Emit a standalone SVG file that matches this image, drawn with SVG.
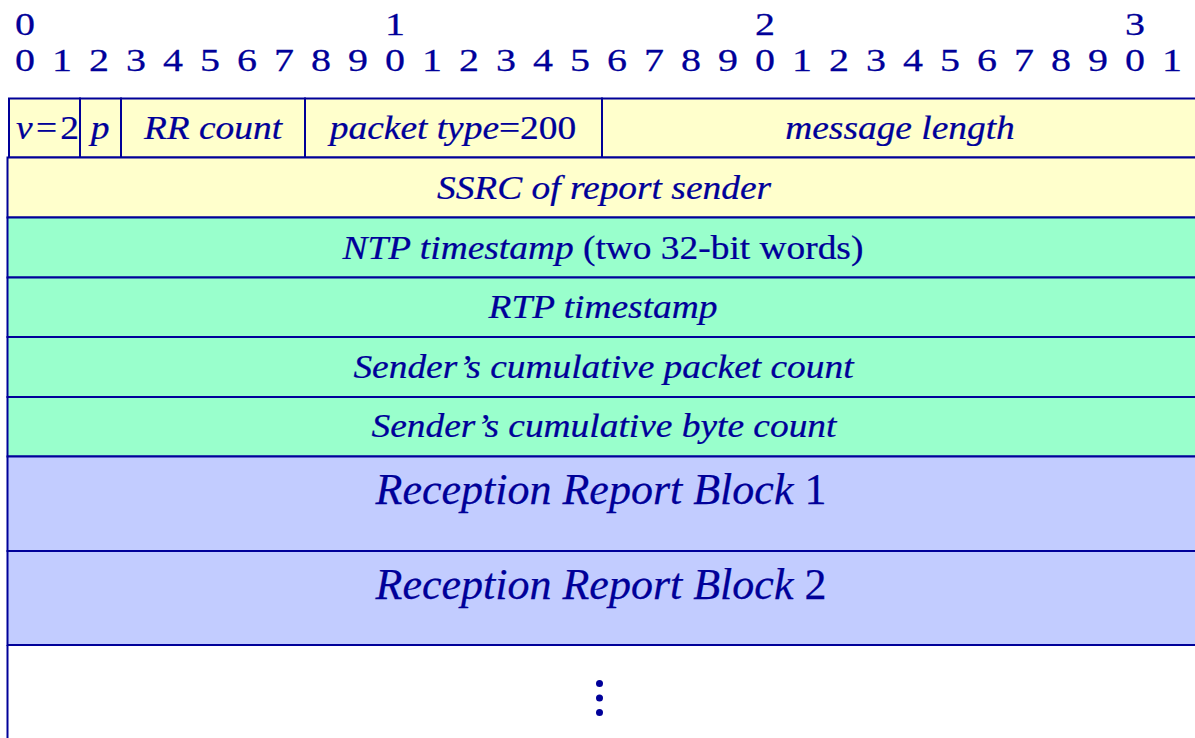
<svg xmlns="http://www.w3.org/2000/svg" width="1195" height="738" viewBox="0 0 1195 738">
  <style>
    text { font-family: "Liberation Serif", "Times New Roman", serif; fill: #000099; stroke: #000099; stroke-width: 0.25; }
    .bit { font-size: 32px; text-anchor: middle; }
    .lbl { font-size: 34px; text-anchor: middle; }
    .big { font-size: 44px; text-anchor: middle; }
    .it { font-style: italic; }
    .cell { stroke: #000099; stroke-width: 2; }
    .hdr { fill: #ffffcc; }
    .snd { fill: #99ffcc; }
    .rrb { fill: #c2ccff; }
  </style>

  <!-- bit ruler (glyphs widened horizontally) -->
  <g id="ruler" transform="scale(1.25 1)">
    <text class="bit" y="35"><tspan x="20">0</tspan><tspan x="316">1</tspan><tspan x="612">2</tspan><tspan x="908">3</tspan></text>
    <text class="bit" y="71"><tspan x="20">0</tspan><tspan x="49.6">1</tspan><tspan x="79.2">2</tspan><tspan x="108.8">3</tspan><tspan x="138.4">4</tspan><tspan x="168">5</tspan><tspan x="197.6">6</tspan><tspan x="227.2">7</tspan><tspan x="256.8">8</tspan><tspan x="286.4">9</tspan><tspan x="316">0</tspan><tspan x="345.6">1</tspan><tspan x="375.2">2</tspan><tspan x="404.8">3</tspan><tspan x="434.4">4</tspan><tspan x="464">5</tspan><tspan x="493.6">6</tspan><tspan x="523.2">7</tspan><tspan x="552.8">8</tspan><tspan x="582.4">9</tspan><tspan x="612">0</tspan><tspan x="641.6">1</tspan><tspan x="671.2">2</tspan><tspan x="700.8">3</tspan><tspan x="730.4">4</tspan><tspan x="760">5</tspan><tspan x="789.6">6</tspan><tspan x="819.2">7</tspan><tspan x="848.8">8</tspan><tspan x="878.4">9</tspan><tspan x="908">0</tspan><tspan x="937.6">1</tspan></text>
  </g>

  <!-- header word -->
  <g id="version">
    <rect class="cell hdr" x="9" y="98.5" width="71" height="59"/>
    <text class="lbl" transform="translate(47.5 139) scale(1.1 1)"><tspan class="it">v</tspan><tspan dx="3">=</tspan><tspan dx="3">2</tspan></text>
  </g>
  <g id="padding">
    <rect class="cell hdr" x="80" y="98.5" width="41" height="59"/>
    <text class="lbl it" transform="translate(100 139) scale(1.1 1)">p</text>
  </g>
  <g id="rr-count">
    <rect class="cell hdr" x="121" y="98.5" width="184" height="59"/>
    <text class="lbl it" transform="translate(213 139) scale(1.1 1)">RR count</text>
  </g>
  <g id="packet-type">
    <rect class="cell hdr" x="305" y="98.5" width="297" height="59"/>
    <text class="lbl" transform="translate(453 139) scale(1.1 1)"><tspan class="it">packet type</tspan>=200</text>
  </g>
  <g id="message-length">
    <rect class="cell hdr" x="602" y="98.5" width="598" height="59"/>
    <text class="lbl it" transform="translate(900 139) scale(1.1 1)">message length</text>
  </g>

  <g id="ssrc">
    <rect class="cell hdr" x="7.5" y="157.5" width="1192" height="60"/>
    <text class="lbl it" transform="translate(604 199) scale(1.1 1)">SSRC of report sender</text>
  </g>

  <!-- sender info -->
  <g id="ntp-timestamp">
    <rect class="cell snd" x="7.5" y="217.5" width="1192" height="60"/>
    <text class="lbl" transform="translate(603 259) scale(1.1 1)"><tspan class="it">NTP timestamp</tspan> (two 32-bit words)</text>
  </g>
  <g id="rtp-timestamp">
    <rect class="cell snd" x="7.5" y="277.5" width="1192" height="59.5"/>
    <text class="lbl it" transform="translate(603 318) scale(1.1 1)">RTP timestamp</text>
  </g>
  <g id="packet-count">
    <rect class="cell snd" x="7.5" y="337" width="1192" height="60"/>
    <text class="lbl it" transform="translate(603.5 378) scale(1.1 1)">Sender’s cumulative packet count</text>
  </g>
  <g id="byte-count">
    <rect class="cell snd" x="7.5" y="397" width="1192" height="59.5"/>
    <text class="lbl it" transform="translate(604 437) scale(1.1 1)">Sender’s cumulative byte count</text>
  </g>

  <!-- report blocks -->
  <g id="report-block-1">
    <rect class="cell rrb" x="7.5" y="456.5" width="1192" height="94.5"/>
    <text class="big" x="601" y="504"><tspan class="it">Reception Report Block</tspan> 1</text>
  </g>
  <g id="report-block-2">
    <rect class="cell rrb" x="7.5" y="551" width="1192" height="94"/>
    <text class="big" x="601" y="599"><tspan class="it">Reception Report Block</tspan> 2</text>
  </g>

  <!-- continuation -->
  <g id="more-blocks">
    <path d="M7.5 645 V738" fill="none" stroke="#000099" stroke-width="2"/>
    <circle cx="599.5" cy="683.5" r="3.5" fill="#000099"/>
    <circle cx="599.5" cy="698" r="3.5" fill="#000099"/>
    <circle cx="599.5" cy="712.5" r="3.5" fill="#000099"/>
  </g>
</svg>
